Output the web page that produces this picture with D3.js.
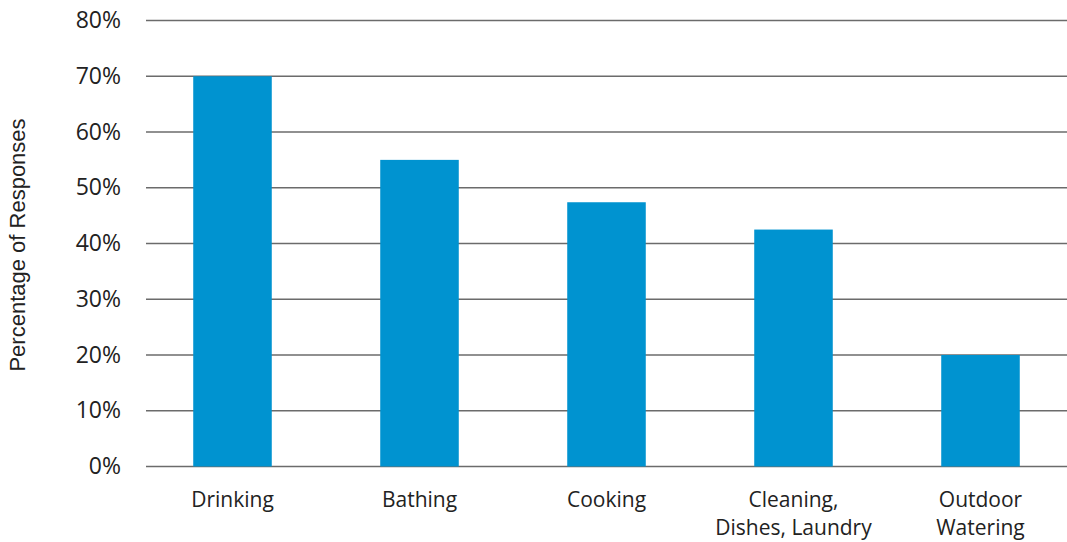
<!DOCTYPE html>
<html><head><meta charset="utf-8">
<script src="https://cdn.jsdelivr.net/npm/d3@7"></script>
<style>body{margin:0;background:#fff}svg{display:block}</style>
</head><body>
<svg id="chart" width="1067" height="542"></svg>
<script>
const categories = [["Drinking"], ["Bathing"], ["Cooking"], ["Cleaning,", "Dishes, Laundry"], ["Outdoor", "Watering"]];
const values = [70, 55, 47.4, 42.5, 20];
const yTicks = [0, 10, 20, 30, 40, 50, 60, 70, 80];
const yTitle = "Percentage of Responses";

const svg = d3.select("#chart");
const keys = categories.map(c => c.join(" "));
const x = d3.scaleBand().domain(keys).range([139, 1074]).paddingInner(0.58).paddingOuter(0.29);
const y = d3.scaleLinear().domain([0, 80]).range([466.5, 20.5]);
const gridX0 = 146, gridX1 = 1067;
const font = "'Open Sans', sans-serif";

// grid
svg.append("g").selectAll("line").data(yTicks).join("line")
  .attr("x1", gridX0).attr("x2", gridX1)
  .attr("y1", d => y(d)).attr("y2", d => y(d))
  .attr("stroke", "#6b6b6b").attr("stroke-width", 1.4);

// y labels
svg.append("g").selectAll("text").data(yTicks).join("text")
  .attr("x", 121).attr("y", d => y(d)).attr("dy", "0.33em")
  .attr("text-anchor", "end").attr("font-family", font).attr("font-size", 23)
  .attr("fill", "#222").text(d => d + "%");

// bars
svg.append("g").selectAll("rect").data(values).join("rect")
  .attr("x", (d, i) => x(keys[i])).attr("width", x.bandwidth())
  .attr("y", d => y(d)).attr("height", d => y(0) - y(d))
  .attr("fill", "#0093d0");

// x labels (one text per line)
const lines = [];
categories.forEach((c, i) => c.forEach((t, j) => lines.push({ key: keys[i], text: t, row: j })));
svg.append("g").selectAll("text").data(lines).join("text")
  .attr("x", d => x(d.key) + x.bandwidth() / 2).attr("y", d => 506.5 + d.row * 28.5)
  .attr("text-anchor", "middle").attr("font-family", font).attr("font-size", 21)
  .attr("fill", "#222").text(d => d.text);

// y title
svg.append("text")
  .attr("transform", "translate(17,245) rotate(-90)").attr("dy", "0.35em")
  .attr("text-anchor", "middle").attr("font-family", "'Liberation Sans', Arial, sans-serif")
  .attr("font-size", 22).attr("fill", "#222").text(yTitle);
</script>
</body></html>
